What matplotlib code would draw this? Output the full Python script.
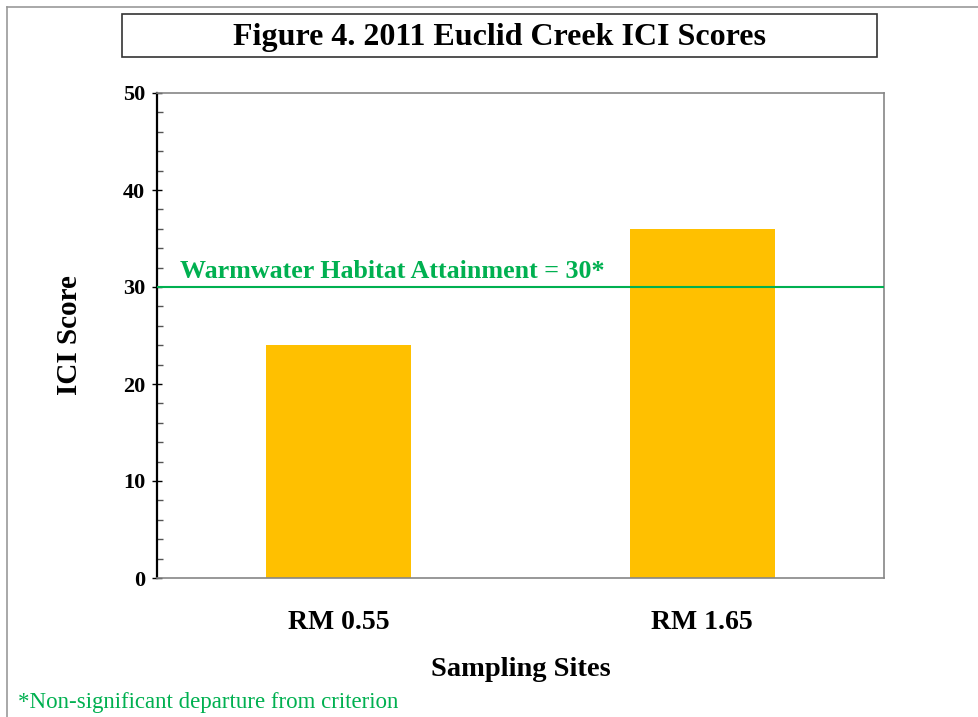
import matplotlib
matplotlib.use("Agg")
import matplotlib.pyplot as plt
from matplotlib.patches import Rectangle
from matplotlib.lines import Line2D
from matplotlib.ticker import MultipleLocator

plt.rcParams['font.family'] = ['Liberation Serif', 'DejaVu Serif']

sites = ["RM 0.55", "RM 1.65"]
ici_scores = [24, 36]
attainment = 30

bar_color = "#FFC000"
green = "#00B050"

fig = plt.figure(figsize=(9.79, 7.17), dpi=100)
ax = fig.add_axes([157 / 979, 1 - 578 / 717, 727 / 979, 485 / 717])

x = range(len(sites))
ax.bar(x, ici_scores, width=0.4, color=bar_color, zorder=2)
ax.axhline(attainment, color=green, lw=1.5, zorder=3)
ax.text(0.032, attainment + 0.9, "Warmwater Habitat Attainment = 30*",
        transform=ax.get_yaxis_transform(), color=green,
        fontsize=18.7, fontweight='bold', va='baseline', ha='left')

ax.set_xlim(-0.5, 1.5)
ax.set_ylim(0, 50)
ax.set_xticks(list(x))
ax.set_xticklabels(sites, fontsize=20, fontweight='bold')
ax.tick_params(axis='x', length=0, pad=23)

ax.yaxis.set_major_locator(MultipleLocator(10))
ax.yaxis.set_minor_locator(MultipleLocator(2))
ax.tick_params(axis='y', which='major', direction='inout', length=7, width=1,
               labelsize=16, pad=5)
ax.tick_params(axis='y', which='minor', direction='in', length=4, width=1,
               color='#555555')
for lbl in ax.get_yticklabels():
    lbl.set_fontweight('bold')

ax.spines['left'].set_color('black')
ax.spines['left'].set_linewidth(1.6)
for s in ['top', 'right', 'bottom']:
    ax.spines[s].set_color('#868686')
    ax.spines[s].set_linewidth(1.2)

ax.set_xlabel("Sampling Sites", fontsize=20.5, fontweight='bold')
ax.xaxis.set_label_coords(0.5, -0.163)
ax.set_ylabel("ICI Score", fontsize=21, fontweight='bold')
ax.yaxis.set_label_coords(-0.102, 0.5)

# title box
fig.patches.append(Rectangle((122 / 979, 1 - 57 / 717), 755 / 979, 43 / 717,
                             transform=fig.transFigure, fill=False,
                             edgecolor='#333333', lw=1.2))
fig.text(499.5 / 979, 1 - 38 / 717, "Figure 4. 2011 Euclid Creek ICI Scores",
         fontsize=23, fontweight='bold', ha='center', va='center')

# outer frame lines
fig.lines.append(Line2D([7 / 979, 1], [1 - 7 / 717, 1 - 7 / 717],
                        transform=fig.transFigure, color='#999999', lw=1.2))
fig.lines.append(Line2D([7 / 979, 7 / 979], [0, 1 - 7 / 717],
                        transform=fig.transFigure, color='#999999', lw=1.2))

fig.text(18 / 979, 1 - 708 / 717, "*Non-significant departure from criterion",
         fontsize=16.5, color=green, ha='left', va='baseline')

fig.savefig("out.png", dpi=100)
